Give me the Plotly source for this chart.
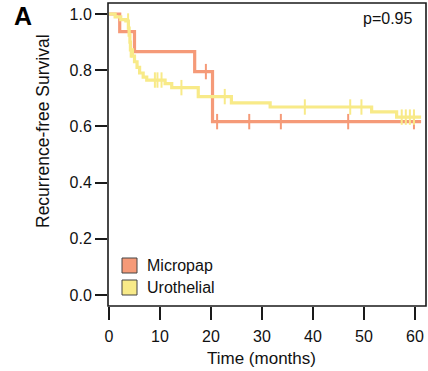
import plotly.graph_objects as go

# ---- data ----
micropap_t = [0, 2.1, 5.0, 16.8, 20.3, 61.2]
micropap_s = [1.0, 0.937, 0.866, 0.795, 0.617, 0.617]
micropap_cens = [19.0, 21.2, 27.5, 33.7, 46.9, 59.8]

uro_t = [0, 1.2, 2.3, 3.3, 3.8, 3.95, 4.1, 4.2, 4.6, 5.0, 5.5, 6.0, 6.7, 7.4,
         11.0, 12.3, 17.5, 24.0, 31.6, 51.5, 56.4, 61.2]
uro_s = [1.0, 0.99, 0.98, 0.975, 0.95, 0.925, 0.90, 0.872, 0.85, 0.83, 0.81, 0.79,
         0.775, 0.765, 0.752, 0.738, 0.706, 0.684, 0.669, 0.652, 0.633, 0.633]
uro_cens = [3.75, 4.25, 9.0, 9.5, 10.3, 14.2, 22.7, 38.4, 47.3, 49.5, 57.4, 58.2, 59.0, 59.8]

x_ticks = [0, 10, 20, 30, 40, 50, 60]
y_ticks = [0.0, 0.2, 0.4, 0.6, 0.8, 1.0]
y_ticklabels = ["0.0", "0.2", "0.4", "0.6", "0.8", "1.0"]

series = [
    ("Micropap", micropap_t, micropap_s, micropap_cens, "#F59A78"),
    ("Urothelial", uro_t, uro_s, uro_cens, "#F8EA88"),
]

FONT = "Liberation Sans, Arial, Helvetica, sans-serif"


def step_value(ts, ss, t):
    v = ss[0]
    for ti, si in zip(ts, ss):
        if ti <= t:
            v = si
    return v


fig = go.Figure()
for name, ts, ss, cens, col in series:
    fig.add_trace(go.Scatter(x=ts, y=ss, mode="lines", line=dict(color=col, width=3.2, shape="hv"),
                             name=name, showlegend=False, hoverinfo="skip"))
    fig.add_trace(go.Scatter(x=cens, y=[step_value(ts, ss, c) for c in cens], mode="markers",
                             marker=dict(symbol="line-ns", size=11, line=dict(color=col, width=2)),
                             showlegend=False, hoverinfo="skip"))

# legend (drawn manually to match the square swatches)
leg_items = [("Micropap", "#F59A78"), ("Urothelial", "#F8EA88")]
shapes = []
annotations = []
L, R, T, B = 108, 426, 3, 306
W, H = R - L, B - T
def px2paper_x(px):
    return (px - L) / W
def py2paper_y(py):
    return (B - py) / H

for i, (lab, col) in enumerate(leg_items):
    top = 258 + i * 22
    shapes.append(dict(type="rect", xref="paper", yref="paper",
                       x0=px2paper_x(122), x1=px2paper_x(137),
                       y0=py2paper_y(top + 15), y1=py2paper_y(top),
                       fillcolor=col, line=dict(color="#444", width=1)))
    annotations.append(dict(text=lab, xref="paper", yref="paper", x=px2paper_x(145),
                            y=py2paper_y(top + 7.5), xanchor="left", yanchor="middle",
                            showarrow=False, font=dict(size=16, color="#111", family=FONT)))

annotations.append(dict(text="p=0.95", xref="paper", yref="paper", x=px2paper_x(414),
                        y=py2paper_y(19), xanchor="right", yanchor="middle", showarrow=False,
                        font=dict(size=16, color="#111", family=FONT)))
annotations.append(dict(text="<b>A</b>", xref="paper", yref="paper", x=px2paper_x(23),
                        y=py2paper_y(16), xanchor="center", yanchor="middle", showarrow=False,
                        font=dict(size=25, color="#000", family=FONT)))
annotations.append(dict(text="Time (months)", xref="paper", yref="paper", x=px2paper_x(261),
                        y=py2paper_y(358), xanchor="center", yanchor="middle", showarrow=False,
                        font=dict(size=17, color="#111", family=FONT)))
annotations.append(dict(text="Recurrence-free Survival", xref="paper", yref="paper",
                        x=px2paper_x(43), y=py2paper_y(131), xanchor="center", yanchor="middle",
                        textangle=-90, showarrow=False,
                        font=dict(size=17.5, color="#111", family=FONT)))

# box
shapes.append(dict(type="rect", xref="paper", yref="paper", x0=0, x1=1, y0=0, y1=1,
                   line=dict(color="#1a1a1a", width=1.6), fillcolor="rgba(0,0,0,0)", layer="above"))

fig.update_layout(
    width=428, height=371,
    margin=dict(l=L, r=428 - R, t=T, b=371 - B),
    paper_bgcolor="white", plot_bgcolor="white",
    showlegend=False,
    shapes=shapes, annotations=annotations,
    font=dict(family=FONT, size=16, color="#111"),
    xaxis=dict(range=[-0.196, 62.16], tickvals=x_ticks, ticks="outside", ticklen=13,
               tickwidth=1.6, tickcolor="#1a1a1a", showgrid=False, zeroline=False,
               showline=False, ticklabelstandoff=3,
               tickfont=dict(size=16, family=FONT, color="#111")),
    yaxis=dict(range=[-0.0391, 1.0391], tickvals=y_ticks, ticktext=y_ticklabels,
               ticks="outside", ticklen=12, tickwidth=1.6, tickcolor="#1a1a1a",
               showgrid=False, zeroline=False, showline=False,
               tickfont=dict(size=16, family=FONT, color="#111")),
)

fig.write_html("out.html")
